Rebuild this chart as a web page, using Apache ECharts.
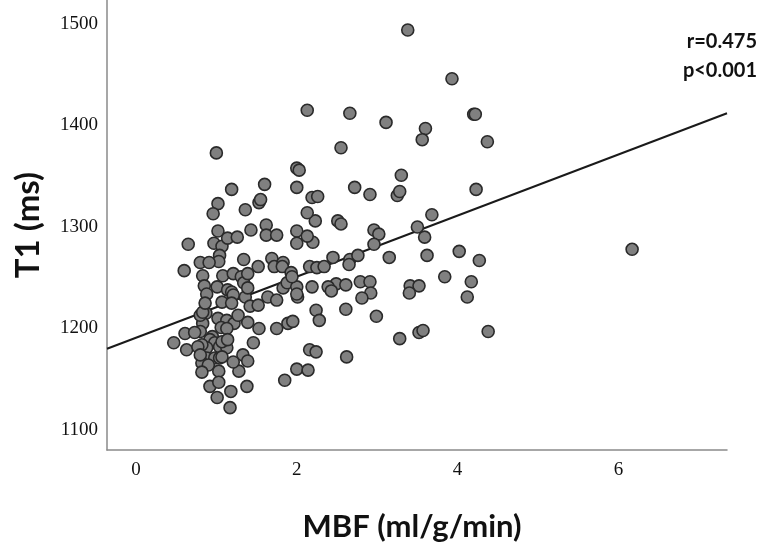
<!DOCTYPE html>
<html>
<head>
<meta charset="utf-8">
<script src="https://cdn.jsdelivr.net/npm/echarts@6/dist/echarts.min.js"></script>
<style>
html,body{margin:0;padding:0;background:#fff;}
#chart{width:760px;height:548px;}
</style>
</head>
<body>
<div id="chart"></div>
<script>
// MBF (ml/g/min) values
const mbf = [
2.13,1.0,3.38,3.93,2.66,3.11,3.6,3.56,4.2,4.22,4.37,2.55,
3.3,2.72,2.91,3.25,3.28,4.23,2.19,2.26,2.23,2.51,2.55,3.68,2.96,3.02,3.5,3.59,2.2,2.96,2.45,2.66,2.65,2.76,3.15,3.62,4.02,4.27,2.16,2.25,2.34,3.84,4.17,2.79,2.91,2.92,2.49,2.61,2.39,2.43,3.41,3.52,3.4,4.12,2.81,2.19,
2.24,2.28,2.61,2.99,3.28,3.52,3.57,4.38,2.16,2.24,2.62,
2.0,2.03,1.19,1.6,2.0,1.02,0.96,1.36,1.53,1.55,2.13,1.02,1.43,1.62,1.62,1.75,2.0,2.0,2.13,0.97,1.07,1.14,1.26,1.04,1.03,1.34,1.69,1.72,1.83,1.82,1.93,1.52,0.8,0.91,0.83,1.08,1.21,1.31,1.34,1.39,0.85,0.88,1.01,1.14,1.19,1.21,1.36,1.39,1.64,1.75,1.83,1.88,2.0,2.01,1.94,
1.07,1.19,1.42,1.52,2.0,1.89,1.95,1.75,1.53,1.39,0.87,0.83,0.8,1.02,1.13,1.22,1.27,1.06,1.13,0.95,0.92,0.98,0.88,1.04,1.13,1.07,1.14,0.82,0.88,0.98,0.82,0.9,1.04,1.07,1.46,1.33,1.39,1.28,1.21,1.03,0.92,1.03,1.18,1.38,1.01,1.17,2.0,2.14,1.85,
0.65,0.6,0.8,0.83,0.86,0.61,0.73,0.47,0.63,0.77,0.8,0.82,
6.17
];
// T1 (ms) values
const t1 = [
1415,1373,1494,1446,1412,1403,1397,1386,1411,1411,1384,1378,
1351,1339,1332,1331,1335,1337,1329,1330,1306,1306,1303,1312,1297,1293,1300,1290,1285,1283,1270,1268,1263,1272,1270,1272,1276,1267,1261,1260,1261,1251,1246,1246,1246,1235,1244,1243,1241,1237,1242,1242,1235,1231,1230,1241,
1218,1208,1219,1212,1190,1196,1198,1197,1179,1177,1172,
1358,1356,1337,1342,1339,1323,1313,1317,1324,1327,1314,1296,1297,1302,1292,1292,1296,1284,1291,1284,1281,1289,1290,1272,1266,1268,1269,1261,1265,1261,1255,1261,1265,1265,1252,1252,1254,1251,1245,1254,1242,1234,1241,1238,1236,1233,1231,1240,1231,1228,1240,1245,1241,1231,1251,
1226,1225,1222,1223,1234,1205,1207,1200,1200,1206,1215,1205,1197,1210,1208,1205,1213,1201,1200,1192,1189,1186,1181,1182,1181,1187,1189,1184,1171,1171,1166,1164,1171,1172,1186,1174,1168,1158,1167,1158,1143,1147,1138,1143,1132,1122,1160,1159,1149,
1283,1257,1213,1216,1225,1195,1196,1186,1179,1182,1174,1157,
1278
];
// Regression (fit) line end points
const fitX = [-0.36, 7.35];
const fitY = [1180, 1412];
const xTicks = [0, 2, 4, 6];
const yTicks = [1100, 1200, 1300, 1400, 1500];
const statLines = ['r=0.475', 'p<0.001'];

const chart = echarts.init(document.getElementById('chart'), null, {renderer: 'canvas'});
const pts = mbf.map((x, i) => [x, t1[i]]);
const fitPts = fitX.map((x, i) => [x, fitY[i]]);

chart.setOption({
  animation: false,
  backgroundColor: '#ffffff',
  grid: {left: 107, right: 33, top: 0, bottom: 98, containLabel: false},
  xAxis: {
    type: 'value', min: -0.36, max: 7.35,
    name: 'MBF (ml/g/min)', nameLocation: 'middle', nameGap: 61,
    nameTextStyle: {fontFamily: 'Lato', fontWeight: 'bold', fontSize: 31, color: '#111', padding: [0, 10, 0, 0]},
    axisLine: {show: true, onZero: false, lineStyle: {color: '#8a8a8a', width: 1.5}},
    axisTick: {show: false},
    splitLine: {show: false},
    axisLabel: {customValues: xTicks, formatter: v => String(v), fontFamily: 'Liberation Serif', fontSize: 19, color: '#111', margin: 11}
  },
  yAxis: {
    type: 'value', min: 1080.3, max: 1523.6,
    name: 'T1 (ms)', nameLocation: 'middle', nameGap: 62, nameRotate: 90,
    nameTextStyle: {fontFamily: 'Lato', fontWeight: 'bold', fontSize: 33, color: '#111'},
    axisLine: {show: true, onZero: false, lineStyle: {color: '#8a8a8a', width: 1.5}},
    axisTick: {show: false},
    splitLine: {show: false},
    axisLabel: {customValues: yTicks, formatter: v => String(v), fontFamily: 'Liberation Serif', fontSize: 19, color: '#111', margin: 9}
  },
  graphic: [
    {type: 'text', right: 3, top: 32, style: {text: statLines[0], fontFamily: 'Lato', fontWeight: 'bold', fontSize: 20, fill: '#111', textAlign: 'right'}},
    {type: 'text', right: 3, top: 61, style: {text: statLines[1], fontFamily: 'Lato', fontWeight: 'bold', fontSize: 20, fill: '#111', textAlign: 'right'}}
  ],
  series: [
    {
      type: 'line', data: fitPts, showSymbol: false, symbol: 'none',
      lineStyle: {color: '#1a1a1a', width: 2}, z: 1, silent: true
    },
    {
      type: 'scatter', data: pts, symbolSize: 12,
      itemStyle: {color: '#808080', borderColor: '#2a2a2a', borderWidth: 1.6, opacity: 1},
      z: 2
    }
  ]
});
</script>
</body>
</html>
